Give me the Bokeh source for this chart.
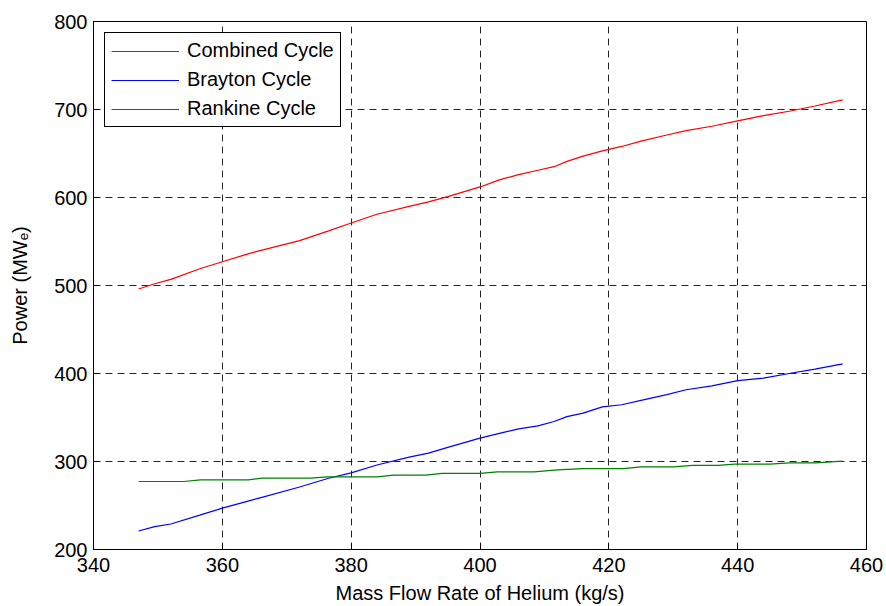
from bokeh.plotting import figure
from bokeh.models import Range1d, FixedTicker, Legend, LegendItem
from bokeh.embed import file_html
from bokeh.resources import INLINE

# Data
flow = [347, 349.5, 352, 356.5, 360, 364, 366, 372, 376.5, 380, 384, 389, 392, 395,
        400, 403, 406, 409, 411.5, 413.5, 416, 419, 422, 425, 429, 432, 436, 440,
        444, 448, 452, 456.3]
combined = [496, 502, 507, 519, 527, 536, 540, 551, 562, 571, 581, 590, 595, 601,
            612, 620, 626, 631, 635, 641, 647, 653, 658, 664, 671, 676, 681, 687,
            693, 698, 704, 711]
brayton = [221, 226, 229, 239, 247, 255, 259, 271, 281, 287, 296, 305, 309.5, 316,
           326.5, 332, 337, 340.5, 345.5, 351, 355, 362, 364.5, 369.5, 376, 381.5,
           386, 392, 394.7, 400, 405, 411]
flow_r = [347, 354, 356.6, 364, 366.2, 373.7, 376.3, 384, 386.6, 391.6, 394.1, 400,
          402.7, 408.4, 412, 416, 422.3, 425, 430, 433, 437, 439.5, 445, 448, 452, 456.3]
rankine = [277.3, 277.3, 279.2, 279.2, 281, 281, 282.6, 282.6, 284.6, 284.6, 286.4,
           286.4, 288.3, 288.3, 290.5, 292, 292, 294, 294, 295.5, 295.5, 297, 297,
           298.5, 298.5, 300.5]

x_ticks = [340, 360, 380, 400, 420, 440, 460]
y_ticks = [200, 300, 400, 500, 600, 700, 800]
labels = ["Combined Cycle", "Brayton Cycle", "Rankine Cycle"]

FONT = "Liberation Sans"
FS = "20px"

p = figure(width=886, height=606, output_backend="svg", toolbar_location=None,
           x_range=Range1d(340, 460), y_range=Range1d(200, 800),
           min_border_left=93, min_border_right=20, min_border_top=21,
           min_border_bottom=57)

p.outline_line_color = "black"
p.outline_line_width = 1
p.outline_line_alpha = 1

for ax in (p.xaxis[0], p.yaxis[0]):
    ax.axis_line_color = "black"
    ax.major_tick_in = 6
    ax.major_tick_out = 0
    ax.minor_tick_line_color = None
    ax.major_tick_line_color = "black"
    ax.major_label_text_font = FONT
    ax.major_label_text_font_size = FS
    ax.major_label_text_color = "black"
    ax.axis_label_text_font = FONT
    ax.axis_label_text_font_size = FS
    ax.axis_label_text_font_style = "normal"
    ax.axis_label_text_color = "black"

p.xaxis.ticker = FixedTicker(ticks=x_ticks)
p.yaxis.ticker = FixedTicker(ticks=y_ticks)
p.xaxis.axis_label = "Mass Flow Rate of Helium (kg/s)"
p.yaxis.axis_label = "Power (MWₑ)"
p.xaxis.major_label_standoff = 8
p.xaxis.axis_label_standoff = 7
p.yaxis.major_label_standoff = 6
p.yaxis.axis_label_standoff = 20

for g in (p.xgrid[0], p.ygrid[0]):
    g.grid_line_color = "black"
    g.grid_line_alpha = 0.85
    g.grid_line_dash = "7 5"
    g.grid_line_width = 1

r1 = p.line(flow, combined, line_color="red", line_width=1.2)
r2 = p.line(flow, brayton, line_color="blue", line_width=1.2)
r3 = p.line(flow_r, rankine, line_color="green", line_width=1.2)

legend = Legend(items=[LegendItem(label=labels[0], renderers=[r1]),
                       LegendItem(label=labels[1], renderers=[r2]),
                       LegendItem(label=labels[2], renderers=[r3])],
                location="top_left")
legend.margin = 11
legend.padding = 6
legend.spacing = 6
legend.glyph_width = 68
legend.glyph_height = 20
legend.label_height = 20
legend.label_standoff = 8
legend.label_text_font = FONT
legend.label_text_font_size = FS
legend.label_text_color = "black"
legend.border_line_color = "black"
legend.border_line_width = 1
legend.border_line_alpha = 1
legend.background_fill_alpha = 1
p.add_layout(legend)

open("out.html", "w").write(file_html(p, INLINE))
